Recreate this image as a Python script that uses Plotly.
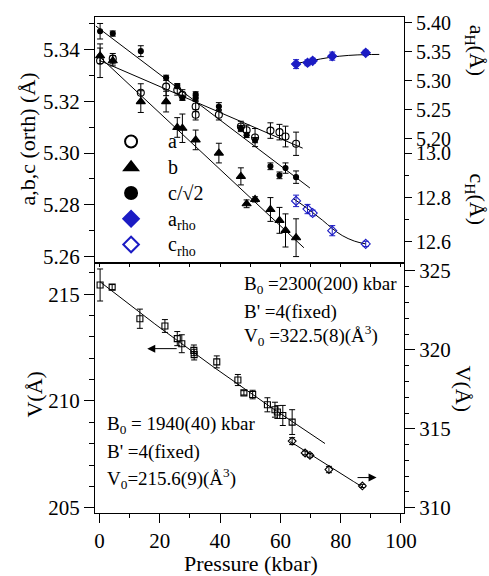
import numpy as np
import plotly.graph_objects as go

# ---- orthorhombic phase: pressure (kbar) and lattice parameters (Å) ----
p_ac = [0.2, 4.4, 13.7, 22.1, 25.8, 27.5, 31.9, 31.9, 39.6, 46.9, 48.8, 51.6, 56.7, 59.7, 61.7, 65.2]
a_orth = [5.3357, 5.3365, 5.3233, 5.3257, 5.3244, 5.3225, 5.3180, 5.3148, 5.3148, 5.3103,
          5.3088, 5.3060, 5.3087, 5.3081, 5.3064, 5.3036]
a_err = [0.0065, 0.002, 0.0035, 0.0035, 0.002, 0.002, 0.002, 0.002, 0.002, 0.002,
         0.002, 0.0035, 0.003, 0.003, 0.004, 0.0045]
c_orth = [5.3471, 5.3462, 5.3394, 5.3291, 5.3259, 5.3214, 5.3227, 5.3212, 5.3180, 5.3097,
          5.3070, 5.3050, 5.2949, 5.2914, 5.2942, 5.2907]
c_err = [0.003, 0.001, 0.0021, 0.001, 0.001, 0.001, 0.001, 0.001, 0.0015, 0.001,
         0.001, 0.001, 0.0013, 0.0013, 0.002, 0.0024]
p_b = [0.2, 4.4, 13.7, 22.1, 25.8, 27.5, 31.9, 39.6, 46.9, 48.8, 51.6, 56.7, 59.7, 61.7, 65.2]
b_orth = [5.3376, 5.3357, 5.3199, 5.3199, 5.3099, 5.3096, 5.3051, 5.3000, 5.2910, 5.2804,
          5.2821, 5.2782, 5.2740, 5.2701, 5.2673]
b_err = [0.003, 0.002, 0.0042, 0.004, 0.0038, 0.0055, 0.0038, 0.0038, 0.0033, 0.0015,
         0.001, 0.0046, 0.005, 0.0064, 0.0073]

# linear fits of the orthorhombic axes (end points)
fit_a_p, fit_a = [0.0, 67.4], [5.3358, 5.3019]
fit_b_p, fit_b = [-0.7, 67.8], [5.3380, 5.2634]
fit_c_p, fit_c = [-1.2, 69.8], [5.3491, 5.2865]

# ---- rhombohedral phase (hexagonal setting) ----
p_rho = [65.2, 69.0, 70.7, 77.2, 88.3]
a_rho = [5.3288, 5.3311, 5.3345, 5.3426, 5.3483]
a_rho_err = [0.0077, 0.005, 0.0045, 0.007, 0.0045]
c_rho = [12.785, 12.748, 12.730, 12.650, 12.590]
c_rho_err = [0.026, 0.021, 0.013, 0.023, 0.012]
fit_arho_p = [64.9, 70.0, 76.5, 82.5, 88.3, 92.8]
fit_arho = [5.3295, 5.3345, 5.3405, 5.3438, 5.3452, 5.3455]
fit_crho_p = [64.3, 67.5, 70.7, 74.0, 77.2, 80.5, 84.5, 88.3]
fit_crho = [12.795, 12.765, 12.732, 12.697, 12.660, 12.628, 12.603, 12.590]

# ---- unit-cell volumes ----
p_vo = [0.2, 4.2, 13.4, 21.7, 25.8, 27.3, 31.3, 31.4, 38.9, 45.9, 47.9, 50.8, 55.7, 58.2, 59.0, 60.8, 63.9]
v_orth = [215.43, 215.33, 213.85, 213.51, 212.92, 212.68, 212.37, 212.17, 211.83, 210.98,
          210.38, 210.30, 209.82, 209.59, 209.48, 209.32, 209.01]
v_orth_err = [0.75, 0.12, 0.45, 0.30, 0.33, 0.42, 0.25, 0.25, 0.28, 0.26,
              0.10, 0.20, 0.33, 0.35, 0.30, 0.47, 0.58]
p_vr = [63.9, 68.2, 69.8, 76.1, 87.2]
v_rho = [314.22, 313.47, 313.32, 312.42, 311.38]
v_rho_err = [0.22, 0.12, 0.12, 0.20, 0.10]

# Murnaghan equation-of-state parameters quoted on the plot
eos_orth = dict(V0=215.6, B0=1940.0, Bp=4.0, pmin=0.2, pmax=74.8)
eos_rho = dict(V0=322.5, B0=2300.0, Bp=4.0, pmin=63.3, pmax=87.7)

# x-axis tick labels
x_ticks = [0, 20, 40, 60, 80, 100]


def murnaghan(eos, n=80):
    p = np.linspace(eos["pmin"], eos["pmax"], n)
    v = eos["V0"] * (1.0 + eos["Bp"] * p / eos["B0"]) ** (-1.0 / eos["Bp"])
    return p, v


BLUE = "#1c1cc4"
FONT = "'Liberation Serif', 'Times New Roman', 'DejaVu Serif', serif"
fig = go.Figure()


def big(s):
    # legend entries are drawn a little larger than the legend's row pitch font
    return "<span style='font-size:20px'>" + s + "</span>"


def pts(x, y, err, xa, ya, symbol, size, color="black", name=None, lw=1.1, show=False):
    fig.add_trace(go.Scatter(
        x=x, y=y, mode="markers", name=name, showlegend=show,
        xaxis=xa, yaxis=ya,
        marker=dict(symbol=symbol, size=size, color=color, line=dict(color=color, width=lw)),
        error_y=dict(type="data", array=err, visible=True, color=color, thickness=1, width=3),
    ))


def line(x, y, xa, ya, shape="linear"):
    fig.add_trace(go.Scatter(x=x, y=y, mode="lines", showlegend=False, xaxis=xa, yaxis=ya,
                             line=dict(color="black", width=1, shape=shape)))


# top panel: lattice parameters
line(fit_a_p, fit_a, "x2", "y2")
line(fit_b_p, fit_b, "x2", "y2")
line(fit_c_p, fit_c, "x2", "y2")
line(fit_arho_p, fit_arho, "x2", "y3", "spline")
line(fit_crho_p, fit_crho, "x2", "y4", "spline")
pts(p_ac, a_orth, a_err, "x2", "y2", "circle-open", 7, name=big("a"), show=True)
pts(p_b, b_orth, b_err, "x2", "y2", "triangle-up", 8, name=big("b"), show=True)
pts(p_ac, c_orth, c_err, "x2", "y2", "circle", 5, name=big("c/\u221a2"), show=True)
pts(p_rho, a_rho, a_rho_err, "x2", "y3", "diamond", 7, color=BLUE,
    name=big("a<sub>rho</sub>"), show=True)
pts(p_rho, c_rho, c_rho_err, "x2", "y4", "diamond-open", 7, color=BLUE,
    name=big("c<sub>rho</sub>"), show=True)

# bottom panel: volumes with EOS fits
pv, vv = murnaghan(eos_orth)
line(pv, vv, "x", "y")
pv, vv = murnaghan(eos_rho)
line(pv, vv, "x", "y5")
pts(p_vo, v_orth, v_orth_err, "x", "y", "square-open", 6)
pts(p_vr, v_rho, v_rho_err, "x", "y5", "diamond-open", 6)

tickfont = dict(family=FONT, size=21, color="black")
rtickfont = dict(family=FONT, size=20, color="black")
common_y = dict(showline=True, linecolor="black", linewidth=1, ticks="outside",
                tickcolor="black", showgrid=False, zeroline=False)

fig.update_layout(
    width=489, height=576,
    margin=dict(l=95, r=85, t=15, b=63),
    paper_bgcolor="white", plot_bgcolor="white",
    font=dict(family=FONT, size=18, color="black"),
    xaxis=dict(domain=[0, 1], anchor="y", range=[-1.49, 101.0],
               tickvals=x_ticks, ticks="outside", ticklen=9, tickcolor="black",
               minor=dict(dtick=10, ticklen=4, ticks="outside", tickcolor="black"),
               showline=True, mirror=True, linecolor="black", linewidth=1,
               tickfont=tickfont, showgrid=False, zeroline=False),
    xaxis2=dict(domain=[0, 1], anchor="y2", range=[-1.49, 101.0],
                dtick=10, tick0=0, ticks="outside", ticklen=4, tickcolor="black",
                showticklabels=False, showline=True, mirror=True, linecolor="black",
                linewidth=1, showgrid=False, zeroline=False),
    yaxis=dict(domain=[0, 0.50201], anchor="x", range=[204.753, 216.413],
               tickvals=[205, 210, 215], ticklen=10, mirror=True, tickfont=tickfont,
               minor=dict(dtick=1, ticklen=5, ticks="outside", tickcolor="black"),
               **common_y),
    yaxis5=dict(overlaying="y", anchor="x", side="right", range=[309.666, 325.44],
                tickvals=[310, 315, 320, 325], ticklen=10, tickfont=tickfont,
                minor=dict(dtick=1, ticklen=4, ticks="outside", tickcolor="black"),
                **common_y),
    yaxis2=dict(domain=[0.50602, 1], anchor="x2", range=[5.2579, 5.3526],
                tickvals=[5.26, 5.28, 5.30, 5.32, 5.34], tickformat=".2f", ticklen=10,
                mirror=True, tickfont=tickfont,
                minor=dict(dtick=0.01, ticklen=5, ticks="outside", tickcolor="black"),
                **common_y),
    yaxis3=dict(overlaying="y2", anchor="x2", side="right", range=[4.9874, 5.4101],
                tickvals=[5.20, 5.25, 5.30, 5.35, 5.40], tickformat=".2f", ticklen=7,
                tickfont=rtickfont, **{**common_y, "showline": False}),
    yaxis4=dict(overlaying="y2", anchor="x2", side="right", range=[12.508, 13.6181],
                tickvals=[12.6, 12.8, 13.0], tickformat=".1f", ticklen=7,
                tickfont=rtickfont,
                minor=dict(tickvals=[12.7, 12.9], ticklen=4, ticks="outside", tickcolor="black"),
                **{**common_y, "showline": False}),
    legend=dict(x=-0.003, y=0.785, xanchor="left", yanchor="top",
                bgcolor="rgba(0,0,0,0)", font=dict(family=FONT, size=17.5, color="black"),
                itemsizing="constant", itemwidth=64, tracegroupgap=0),
)

ann = []


def text(x, y, s, size=19, angle=0, xanchor="left"):
    ann.append(dict(x=x, y=y, xref="paper", yref="paper", text=s, showarrow=False,
                    xanchor=xanchor, yanchor="middle", textangle=angle,
                    font=dict(family=FONT, size=size, color="black")))


# axis titles
text(-0.2168, 0.753, "a,b,c (orth) (Å)", size=22, angle=-90, xanchor="center")
text(-0.197, 0.239, "V(Å)", size=22, angle=-90, xanchor="center")
text(1.233, 0.932, "a<sub>H</sub>(Å)", size=22, angle=90, xanchor="center")
text(1.233, 0.632, "c<sub>H</sub>(Å)", size=22, angle=90, xanchor="center")
text(1.194, 0.251, "V(Å)", size=22, angle=90, xanchor="center")
text(0.505, -0.102, "Pressure (kbar)", size=22, xanchor="center")

# EOS fit results
text(0.4757, 0.4598, "B<sub>0</sub> =2300(200) kbar")
text(0.4757, 0.4056, "B' =4(fixed)")
text(0.4757, 0.3574, "V<sub>0</sub> =322.5(8)(Å<sup>3</sup>)")
text(0.0324, 0.1767, "B<sub>0</sub> = 1940(40) kbar")
text(0.0324, 0.1225, "B' =4(fixed)")
text(0.0324, 0.0703, "V<sub>0</sub>=215.6(9)(Å<sup>3</sup>)")

# arrows pointing to the axis each volume set belongs to
ann.append(dict(x=15.85, y=212.45, ax=26.1, ay=212.45, xref="x", yref="y", axref="x", ayref="y",
                showarrow=True, arrowhead=2, arrowsize=1.6, arrowwidth=1, arrowcolor="black", text=""))
ann.append(dict(x=91.9, y=311.91, ax=85.1, ay=311.91, xref="x", yref="y5", axref="x", ayref="y5",
                showarrow=True, arrowhead=2, arrowsize=1.6, arrowwidth=1, arrowcolor="black", text=""))

fig.update_layout(annotations=ann)
fig.write_html("out.html")
